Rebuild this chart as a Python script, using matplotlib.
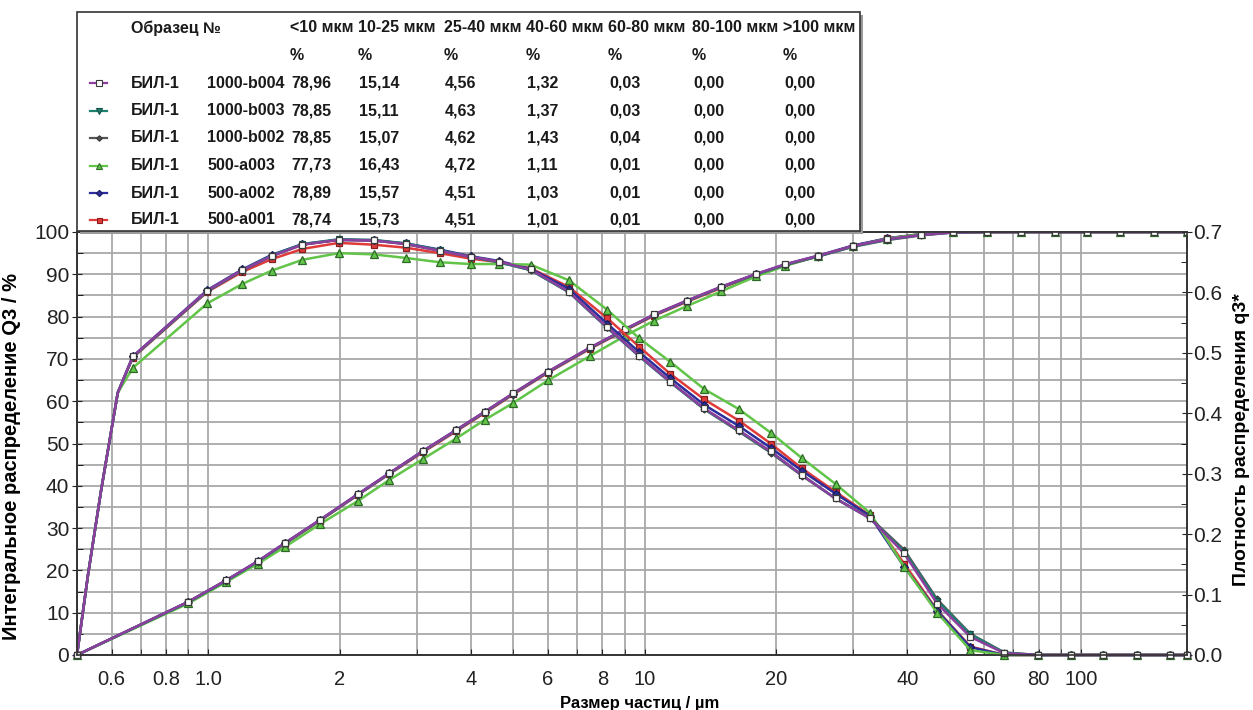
import numpy as np
import matplotlib
matplotlib.use("Agg")
from matplotlib import pyplot as plt
from matplotlib import ticker
from matplotlib.patches import Rectangle
from matplotlib.lines import Line2D

# --- data ---------------------------------------------------------------
# cumulative distribution Q3 (%) at class upper bounds (um)
q3_bounds = [0.5, 0.9, 1.1, 1.3, 1.5, 1.8, 2.2, 2.6, 3.1, 3.7, 4.3, 5.0, 6.0, 7.5,
             9.0, 10.5, 12.5, 15, 18, 21, 25, 30, 36, 43, 51, 61, 73, 87, 103,
             123, 147, 175]

Q3_b004 = [0, 12.6, 17.7, 22.2, 26.5, 31.9, 38.0, 43.0, 48.2, 53.2, 57.5, 61.9, 67.0,
           72.7, 77.0, 80.5, 83.8, 87.1, 90.1, 92.4, 94.4, 96.7, 98.3, 99.3, 99.9,
           100, 100, 100, 100, 100, 100, 100]
Q3_b003 = [0, 12.5, 17.6, 22.1, 26.4, 31.8, 37.9, 42.9, 48.1, 53.1, 57.4, 61.8, 66.9,
           72.6, 76.9, 80.4, 83.7, 87.0, 90.0, 92.3, 94.3, 96.6, 98.2, 99.3, 99.9,
           100, 100, 100, 100, 100, 100, 100]
Q3_b002 = [0, 12.5, 17.6, 22.1, 26.4, 31.8, 37.9, 42.9, 48.1, 53.1, 57.4, 61.8, 66.9,
           72.6, 76.9, 80.4, 83.7, 87.0, 90.0, 92.2, 94.2, 96.5, 98.1, 99.2, 99.9,
           100, 100, 100, 100, 100, 100, 100]
Q3_a003 = [0, 12.2, 17.3, 21.6, 25.6, 30.9, 36.4, 41.4, 46.3, 51.2, 55.6, 59.6, 64.9,
           70.7, 75.4, 79.0, 82.5, 86.0, 89.5, 92.0, 94.3, 96.6, 98.4, 99.5, 100,
           100, 100, 100, 100, 100, 100, 100]
Q3_a002 = [0, 12.6, 17.7, 22.2, 26.5, 31.9, 38.0, 43.0, 48.2, 53.2, 57.5, 61.8, 66.9,
           72.6, 76.9, 80.4, 83.7, 87.0, 90.0, 92.3, 94.4, 96.8, 98.5, 99.5, 100,
           100, 100, 100, 100, 100, 100, 100]
Q3_a001 = [0, 12.5, 17.6, 22.0, 26.3, 31.7, 37.8, 42.8, 47.9, 52.9, 57.2, 61.6, 66.7,
           72.4, 76.7, 80.2, 83.5, 86.8, 89.8, 92.1, 94.3, 96.7, 98.5, 99.5, 100,
           100, 100, 100, 100, 100, 100, 100]

# density distribution q3* at class mid points (geometric mean), plus ends
q3d_x = [0.5, 0.671, 0.995, 1.196, 1.396, 1.643, 1.990, 2.392, 2.839, 3.387, 3.989,
         4.637, 5.477, 6.708, 8.216, 9.721, 11.456, 13.693, 16.432, 19.442, 22.913,
         27.386, 32.863, 39.345, 46.831, 55.777, 66.731, 79.693, 94.662, 112.56,
         134.47, 160.39, 175]

q3d_b004 = [0, 0.494, 0.603, 0.637, 0.660, 0.679, 0.687, 0.686, 0.680, 0.669, 0.659,
            0.651, 0.638, 0.601, 0.542, 0.495, 0.452, 0.408, 0.372, 0.337, 0.298,
            0.259, 0.226, 0.168, 0.085, 0.030, 0.003, 0, 0, 0, 0, 0, 0]
q3d_b003 = [0, 0.493, 0.602, 0.637, 0.661, 0.680, 0.688, 0.687, 0.681, 0.670, 0.659,
            0.650, 0.637, 0.600, 0.541, 0.494, 0.451, 0.407, 0.371, 0.336, 0.298,
            0.259, 0.226, 0.171, 0.090, 0.034, 0.004, 0, 0, 0, 0, 0, 0]
q3d_b002 = [0, 0.493, 0.602, 0.636, 0.660, 0.679, 0.687, 0.686, 0.680, 0.669, 0.659,
            0.650, 0.637, 0.601, 0.542, 0.495, 0.452, 0.407, 0.370, 0.335, 0.297,
            0.259, 0.227, 0.174, 0.092, 0.035, 0.004, 0, 0, 0, 0, 0, 0]
q3d_a003 = [0, 0.475, 0.582, 0.614, 0.636, 0.654, 0.665, 0.663, 0.657, 0.650, 0.647,
            0.647, 0.646, 0.620, 0.571, 0.524, 0.485, 0.440, 0.407, 0.368, 0.326,
            0.283, 0.235, 0.146, 0.070, 0.008, 0, 0, 0, 0, 0, 0, 0]
q3d_a002 = [0, 0.494, 0.604, 0.638, 0.662, 0.680, 0.687, 0.686, 0.681, 0.671, 0.660,
            0.652, 0.639, 0.606, 0.548, 0.501, 0.458, 0.414, 0.379, 0.343, 0.305,
            0.267, 0.230, 0.146, 0.073, 0.013, 0, 0, 0, 0, 0, 0, 0]
q3d_a001 = [0, 0.492, 0.601, 0.634, 0.655, 0.672, 0.682, 0.679, 0.674, 0.665, 0.656,
            0.650, 0.640, 0.609, 0.557, 0.510, 0.465, 0.423, 0.388, 0.350, 0.309,
            0.270, 0.231, 0.151, 0.074, 0.014, 0, 0, 0, 0, 0, 0, 0]

# steep rise of the density curve between 0.5 and the first class mid (line only)
rise_x = [0.53, 0.568, 0.59, 0.62]
rise_y = [0.133, 0.273, 0.343, 0.434]

sample_name = ["БИЛ-1"] * 6
sample_id = ["1000-b004", "1000-b003", "1000-b002", "500-a003", "500-a002", "500-a001"]
fraction_labels = ["<10 мкм", "10-25 мкм", "25-40 мкм", "40-60 мкм", "60-80 мкм",
                   "80-100 мкм", ">100 мкм"]
fractions = [
    ["78,96", "15,14", "4,56", "1,32", "0,03", "0,00", "0,00"],
    ["78,85", "15,11", "4,63", "1,37", "0,03", "0,00", "0,00"],
    ["78,85", "15,07", "4,62", "1,43", "0,04", "0,00", "0,00"],
    ["77,73", "16,43", "4,72", "1,11", "0,01", "0,00", "0,00"],
    ["78,89", "15,57", "4,51", "1,03", "0,01", "0,00", "0,00"],
    ["78,74", "15,73", "4,51", "1,01", "0,01", "0,00", "0,00"],
]

cum_data = [Q3_b004, Q3_b003, Q3_b002, Q3_a003, Q3_a002, Q3_a001]
dens_data = [q3d_b004, q3d_b003, q3d_b002, q3d_a003, q3d_a002, q3d_a001]

# style per sample (line colour, marker, face, edge, size)
styles = [
    ("#8c3f9e", "s", "white", "#3a3a3a", 5.0),
    ("#1f8070", "v", "#1f8070", "#145048", 5.0),
    ("#555555", "D", "#555555", "#333333", 3.5),
    ("#62c448", "^", "#62c448", "#2d6a28", 5.5),
    ("#2c2c9c", "D", "#2c2c9c", "#1a1a60", 4.0),
    ("#e03a3a", "s", "#e03a3a", "#8a1e1e", 4.5),
]

W, H = 1253, 710
plt.rcParams["font.family"] = ["Liberation Sans", "DejaVu Sans"]


def fx(px):
    return px / W


def fy(py):
    return 1 - py / H


fig = plt.figure(figsize=(W / 100, H / 100), dpi=100)
ax = fig.add_axes([fx(77), fy(655), (1187 - 77) / W, (655 - 232) / H])
ax2 = ax.twinx()

# draw from last sample to first so 1000-b004 ends on top
for i in reversed(range(6)):
    col, mk, mfc, mec, ms = styles[i]
    ax.plot(q3_bounds, cum_data[i], color=col, lw=1.8, marker=mk, ms=ms,
            mfc=mfc, mec=mec, mew=0.9, zorder=3)
    xs = [q3d_x[0]] + rise_x + q3d_x[1:]
    ys = [dens_data[i][0]] + rise_y + dens_data[i][1:]
    marks = [0] + list(range(1 + len(rise_x), len(xs)))
    ax2.plot(xs, ys, color=col, lw=1.8, marker=mk, ms=ms, mfc=mfc, mec=mec,
             mew=0.9, markevery=marks, clip_on=False)

ax.set_xscale("log")
ax.set_xlim(0.5, 175)
ax.set_ylim(0, 100)
ax2.set_ylim(0, 0.7)

xt = [0.6, 0.8, 1.0, 2, 4, 6, 8, 10, 20, 40, 60, 80, 100]
xt_labels = ["0.6", "0.8", "1.0", "2", "4", "6", "8", "10", "20", "40", "60", "80", "100"]
ax.xaxis.set_major_locator(ticker.FixedLocator(xt))
ax.xaxis.set_major_formatter(ticker.FixedFormatter(xt_labels))
ax.xaxis.set_minor_locator(ticker.LogLocator(base=10, subs=np.arange(1, 10), numticks=20))
ax.xaxis.set_minor_formatter(ticker.NullFormatter())

ax.yaxis.set_major_locator(ticker.MultipleLocator(10))
ax.yaxis.set_minor_locator(ticker.MultipleLocator(5))
ax2.yaxis.set_major_locator(ticker.MultipleLocator(0.1))
ax2.yaxis.set_minor_locator(ticker.MultipleLocator(0.05))
ax2.yaxis.set_major_formatter(ticker.FormatStrFormatter("%.1f"))

ax.grid(True, which="both", color="#a8a8a8", lw=1.3)
ax.set_axisbelow(True)

ax.tick_params(axis="x", which="both", direction="in", length=4, pad=11,
               labelsize=14.5, colors="#222222")
ax.tick_params(axis="y", which="major", direction="inout", length=7, pad=2,
               labelsize=15, colors="#222222")
ax.tick_params(axis="y", which="minor", direction="in", length=4)
ax2.tick_params(axis="y", which="major", direction="inout", length=7, pad=1,
                labelsize=15, colors="#222222")
ax2.tick_params(axis="y", which="minor", direction="in", length=4)

for a in (ax, ax2):
    for s in a.spines.values():
        s.set_color("#333333")
        s.set_linewidth(1.2)

ax.set_xlabel("Размер частиц / µm", fontsize=12, fontweight="bold")
ax.xaxis.set_label_coords(0.507, -0.098)
ax.set_ylabel("Интегральное распределение Q3 / %", fontsize=14.5, fontweight="bold")
ax.yaxis.set_label_coords(-0.050, 0.47)
ax2.set_ylabel("Плотность распределения q3*", fontsize=14, fontweight="bold")
ax2.yaxis.set_label_coords(1.041, 0.51)

# --- table legend above the plot ----------------------------------------
fig.patches.append(Rectangle((fx(80), fy(234)), (863 - 80) / W, (234 - 15) / H,
                             transform=fig.transFigure, facecolor="#9a9a9a",
                             edgecolor="none", zorder=4))
fig.patches.append(Rectangle((fx(77), fy(231)), (860 - 77) / W, (231 - 12) / H,
                             transform=fig.transFigure, facecolor="white",
                             edgecolor="#333333", lw=1.2, zorder=5))

row_y = [83, 110.5, 138, 165.5, 193, 220]
col_x = [290, 358, 444, 526, 608, 692, 783]
tkw = dict(fontsize=11.5, fontweight="bold", va="center", ha="left",
           color="#1a1a1a", zorder=6)
fig.text(fx(131), fy(28), "Образец №", **tkw)
for j, lab in enumerate(fraction_labels):
    fig.text(fx(col_x[j]), fy(28), lab, **tkw)
    fig.text(fx(col_x[j]), fy(55.5), "%", **tkw)

for i in range(6):
    col, mk, mfc, mec, ms = styles[i]
    yy = fy(row_y[i])
    fig.lines.append(Line2D([fx(90), fx(107)], [yy, yy], transform=fig.transFigure,
                            color=col, lw=1.6, zorder=6))
    fig.lines.append(Line2D([fx(98.5)], [yy], transform=fig.transFigure, marker=mk,
                            ms=ms * 0.8, mfc=mfc, mec=mec, mew=0.8, color=col,
                            zorder=7))
    fig.text(fx(131), yy, sample_name[i], **tkw)
    fig.text(fx(207), yy, sample_id[i], **tkw)
    for j, v in enumerate(fractions[i]):
        fig.text(fx(col_x[j] + 1), yy, v, **tkw)

fig.savefig("out.png", dpi=100, facecolor="white")
